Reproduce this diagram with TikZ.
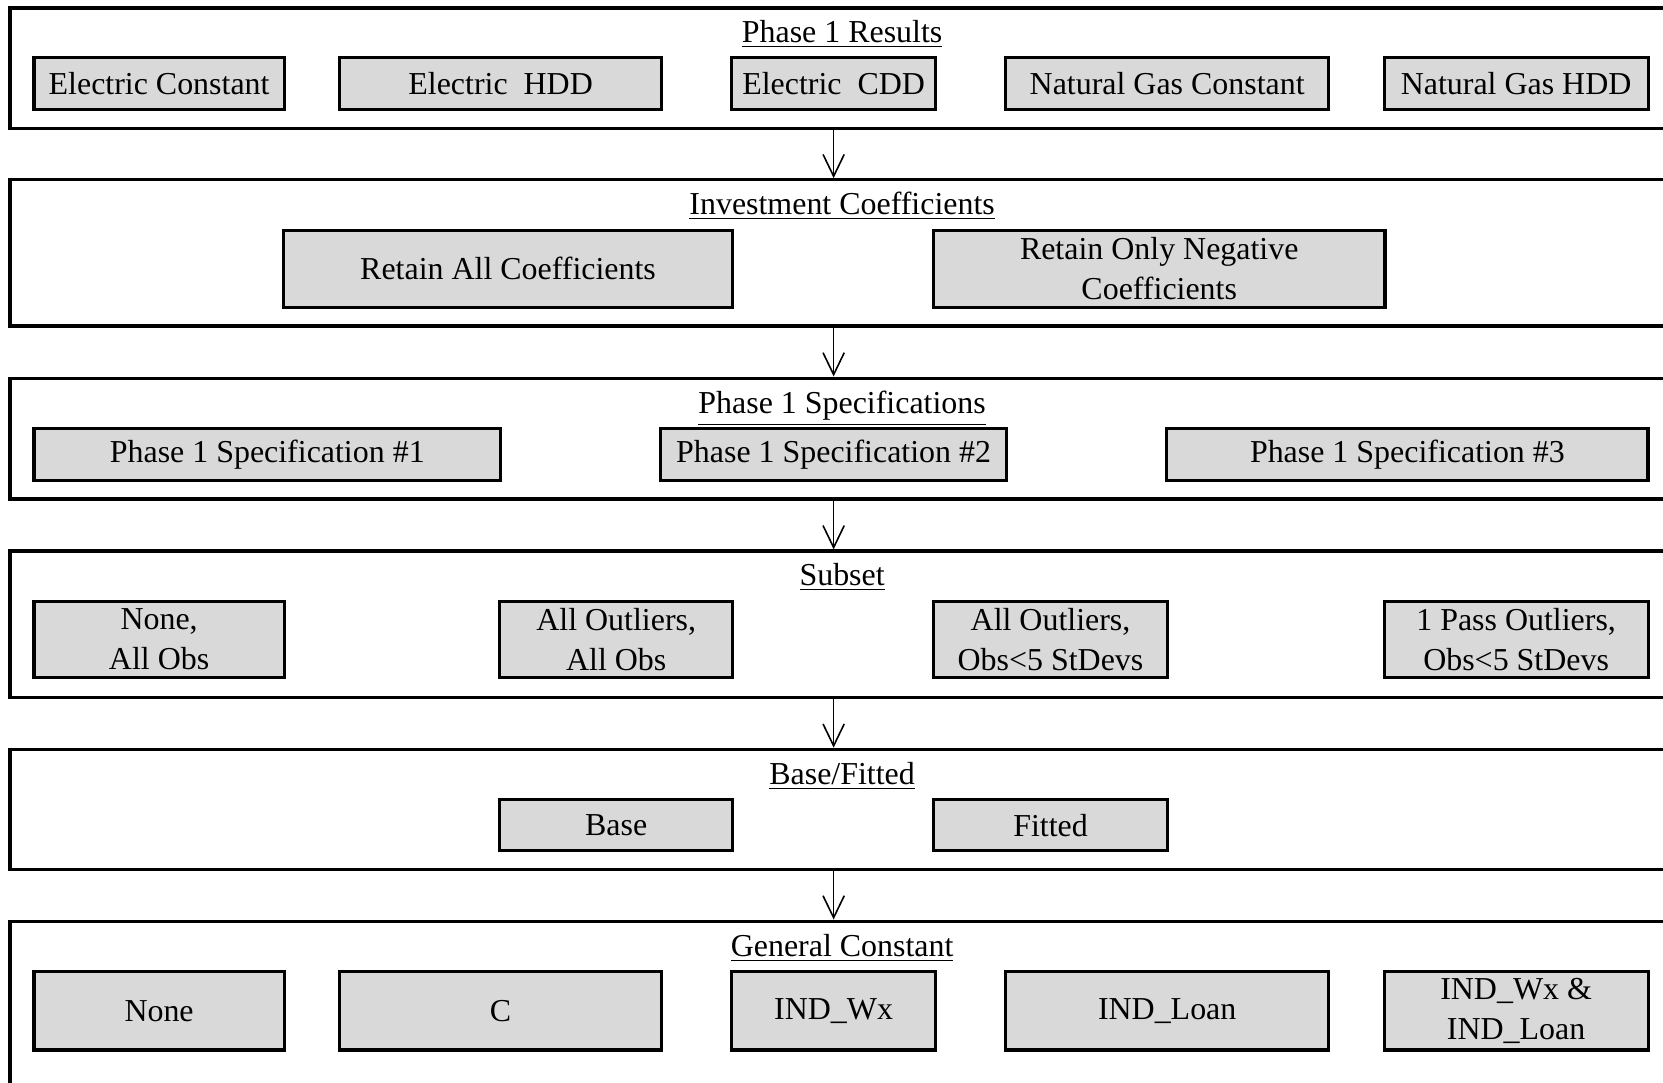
\documentclass[tikz,border=0pt]{standalone}
\usepackage{fontspec}
\setmainfont{Liberation Serif}
\usetikzlibrary{arrows.meta}

\begin{document}
\begin{tikzpicture}[x=0.014cm, y=-0.014cm,
    every node/.style={font=\fontsize{12}{15}\selectfont},
    panel/.style={draw, line width=1.2pt, anchor=north west, minimum width=23.7cm, inner sep=0pt},
    opt/.style={draw, fill=black!15, line width=1.2pt, align=center, inner sep=0pt},
    title/.style={anchor=base},
    flow/.style={-{Straight Barb[length=0.29cm, width=0.28cm]}, line width=0.6pt}]
  \useasboundingbox (0,0) rectangle (1568,1021);
  \clip (0,0) rectangle (1568,1021);
  % panels
  \node[panel, minimum height=1.596cm] (p1) at (8,6) {};
  \node[panel, minimum height=1.932cm] (p2) at (8,168) {};
  \node[panel, minimum height=1.596cm] (p3) at (8,355) {};
  \node[panel, minimum height=1.932cm] (p4) at (8,518) {};
  \node[panel, minimum height=1.582cm] (p5) at (8,705) {};
  \node[panel, minimum height=3.262cm] (p6) at (8,867) {};
  % titles
  \node[title] (t1) at (794,40) {\underline{Phase 1 Results}};
  \node[title] (t2) at (794,202) {\underline{Investment Coefficients}};
  \node[title] (t3) at (794,390) {\underline{Phase 1 Specifications}};
  \node[title] (t4) at (794,552) {\underline{Subset}};
  \node[title] (t5) at (794,740) {\underline{Base/Fitted}};
  \node[title] (t6) at (794,902) {\underline{General Constant}};
  % phase 1 results
  \node[opt, minimum width=3.304cm, minimum height=0.686cm] (econst) at (150,78.5) {Electric Constant};
  \node[opt, minimum width=4.256cm, minimum height=0.686cm] (ehdd) at (472,78.5) {Electric\ \ HDD};
  \node[opt, minimum width=2.688cm, minimum height=0.686cm] (ecdd) at (786,78.5) {Electric\ \ CDD};
  \node[opt, minimum width=4.27cm, minimum height=0.686cm] (gconst) at (1100.5,78.5) {Natural Gas Constant};
  \node[opt, minimum width=3.486cm, minimum height=0.686cm] (ghdd) at (1429.5,78.5) {Natural Gas HDD};
  % investment coefficients
  \node[opt, minimum width=5.936cm, minimum height=1.022cm] (rall) at (479,253.5) {Retain All Coefficients};
  \node[opt, minimum width=5.964cm, minimum height=1.022cm] (rneg) at (1093,253.5) {Retain Only Negative\\Coefficients};
  % phase 1 specifications
  \node[opt, minimum width=6.16cm, minimum height=0.686cm] (spec1) at (252,428.5) {Phase 1 Specification \#1};
  \node[opt, minimum width=4.564cm, minimum height=0.686cm] (spec2) at (786,428.5) {Phase 1 Specification \#2};
  \node[opt, minimum width=6.356cm, minimum height=0.686cm] (spec3) at (1327,428.5) {Phase 1 Specification \#3};
  % subset
  \node[opt, minimum width=3.304cm, minimum height=1.008cm] (sub1) at (150,603) {None,\\All Obs};
  \node[opt, minimum width=3.08cm, minimum height=1.008cm] (sub2) at (581,603) {All Outliers,\\All Obs};
  \node[opt, minimum width=3.094cm, minimum height=1.008cm] (sub3) at (990.5,603) {All Outliers,\\Obs<5 StDevs};
  \node[opt, minimum width=3.486cm, minimum height=1.008cm] (sub4) at (1429.5,603) {1 Pass Outliers,\\Obs<5 StDevs};
  % base/fitted
  \node[opt, minimum width=3.08cm, minimum height=0.672cm] (base) at (581,778) {Base};
  \node[opt, minimum width=3.094cm, minimum height=0.672cm] (fitted) at (990.5,778) {Fitted};
  % general constant
  \node[opt, minimum width=3.304cm, minimum height=1.036cm] (gnone) at (150,953) {None};
  \node[opt, minimum width=4.256cm, minimum height=1.036cm] (gc) at (472,953) {C};
  \node[opt, minimum width=2.688cm, minimum height=1.036cm] (gwx) at (786,953) {IND\_Wx};
  \node[opt, minimum width=4.27cm, minimum height=1.036cm] (gloan) at (1100.5,953) {IND\_Loan};
  \node[opt, minimum width=3.486cm, minimum height=1.036cm] (gboth) at (1429.5,953) {IND\_Wx \&\\IND\_Loan};
  % flow between panels
  \draw[flow] (p1.south -| ecdd) -- (p2.north -| ecdd);
  \draw[flow] (p2.south -| ecdd) -- (p3.north -| ecdd);
  \draw[flow] (p3.south -| ecdd) -- (p4.north -| ecdd);
  \draw[flow] (p4.south -| ecdd) -- (p5.north -| ecdd);
  \draw[flow] (p5.south -| ecdd) -- (p6.north -| ecdd);
\end{tikzpicture}
\end{document}
